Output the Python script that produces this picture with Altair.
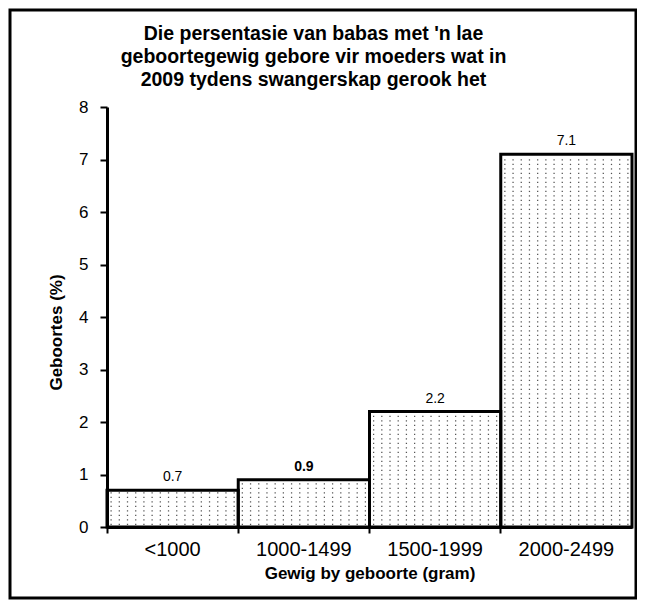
import altair as alt
import pandas as pd

categories = ["<1000", "1000-1499", "1500-1999", "2000-2499"]
values = [0.7, 0.9, 2.2, 7.1]
bold_label = [False, True, False, False]

title_lines = [
    "Die persentasie van babas met 'n lae",
    "geboortegewig gebore vir moeders wat in",
    "2009 tydens swangerskap gerook het",
]
x_title = "Gewig by geboorte (gram)"
y_title = "Geboortes (%)"
y_ticks = [0, 1, 2, 3, 4, 5, 6, 7, 8]

FONT = "Liberation Sans"

df = pd.DataFrame({"cat": categories, "val": values, "bold": bold_label})

W, H = 525, 420

xenc = alt.X(
    "cat:N",
    sort=categories,
    scale=alt.Scale(paddingInner=0, paddingOuter=0),
    axis=alt.Axis(
        title=x_title,
        labelAngle=0,
        labelFont=FONT,
        labelFontSize=20,
        labelColor="black",
        labelPadding=6,
        titleFont=FONT,
        titleFontSize=17,
        titleFontWeight="bold",
        titleColor="black",
        titlePadding=6,
        domainColor="black",
        domainWidth=3,
        tickColor="black",
        tickWidth=2,
        tickSize=6,
        bandPosition=0,
    ),
)

yenc = alt.Y(
    "val:Q",
    scale=alt.Scale(domain=[0, 8]),
    axis=alt.Axis(
        title=y_title,
        values=y_ticks,
        grid=False,
        labelFont=FONT,
        labelFontSize=17,
        labelColor="black",
        labelPadding=12,
        titleFont=FONT,
        titleFontSize=17,
        titleFontWeight="bold",
        titleColor="black",
        titleX=-51,
        titleY=225,
        titleBaseline="middle",
        domainColor="black",
        domainWidth=3,
        tickColor="black",
        tickWidth=2,
        tickSize=7,
    ),
)

base = alt.Chart(df)

# dotted texture inside each bar, placed through a hidden linear x scale spanning the 4 bands
dots = (
    base.transform_window(idx="row_number()")
    .transform_calculate(row="sequence(0.05, datum.val - 0.04, 0.0857)")
    .transform_flatten(["row"])
    .transform_calculate(col="sequence(0, 16)")
    .transform_flatten(["col"])
    .transform_calculate(px="datum.idx - 1 + (datum.col + 0.5) / 16")
    .mark_square(size=1.6, color="#555555", opacity=1)
    .encode(
        x=alt.X("px:Q", scale=alt.Scale(domain=[0, 4], nice=False, zero=False), axis=None),
        y=alt.Y("row:Q", scale=alt.Scale(domain=[0, 8])),
    )
)

bars = base.mark_bar(fillOpacity=0, stroke="black", strokeWidth=3).encode(x=xenc, y=yenc)

labels_normal = base.transform_filter("!datum.bold").mark_text(
    dy=-13, font=FONT, fontSize=14, color="black"
).encode(x=alt.X("cat:N", sort=categories), y="val:Q", text=alt.Text("val:Q", format=".1f"))

labels_bold = base.transform_filter("datum.bold").mark_text(
    dy=-13, font=FONT, fontSize=14, fontWeight="bold", color="black"
).encode(x=alt.X("cat:N", sort=categories), y="val:Q", text=alt.Text("val:Q", format=".1f"))

frame = alt.Chart(pd.DataFrame({"f": [0]})).mark_rect(
    fillOpacity=0, stroke="black", strokeWidth=3
).encode(
    x=alt.value(-97), x2=alt.value(529), y=alt.value(-97), y2=alt.value(491)
)

main = alt.layer(bars, labels_normal, labels_bold, frame)

chart = (
    alt.layer(dots, main)
    .resolve_scale(x="independent")
    .properties(
        width=W,
        height=H,
        padding={"left": 99, "top": 99, "right": 5, "bottom": 73},
        autosize="none",
        title=alt.TitleParams(
            text=title_lines,
            font=FONT,
            fontSize=19.5,
            fontWeight="bold",
            color="black",
            anchor="middle",
            lineHeight=23,
            offset=0,
            dy=82,
            dx=-56,
        ),
    )
    .configure_view(stroke=None)
    .configure_axis(grid=False)
)

chart.save("out.html", embed_options={"renderer": "svg", "actions": False})
